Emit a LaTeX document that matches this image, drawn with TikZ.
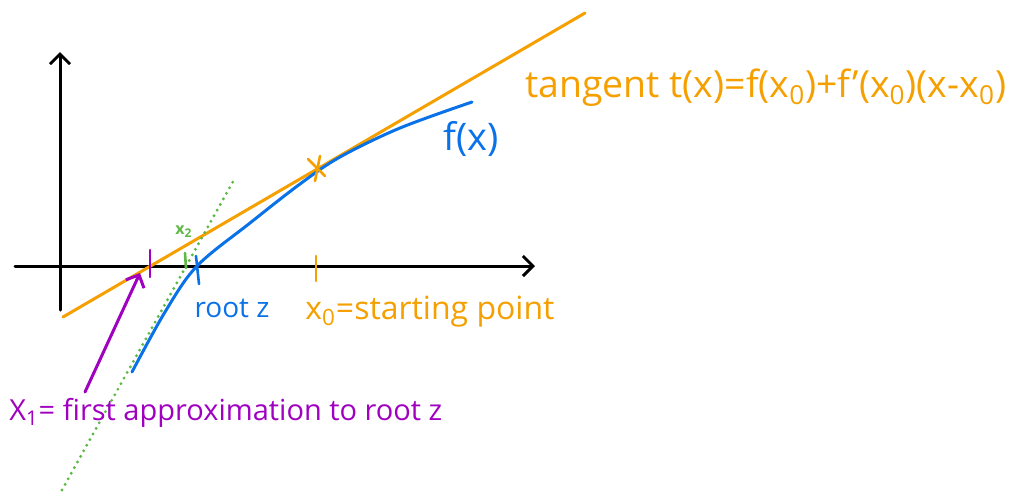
\documentclass[tikz,border=0pt]{standalone}
\usepackage{fontspec}
\setmainfont{Open Sans}
\usetikzlibrary{arrows.meta,calc}
\definecolor{tangorange}{HTML}{F5A000}
\definecolor{curveblue}{HTML}{0A72E8}
\definecolor{approxgreen}{HTML}{5DB844}
\definecolor{notepurple}{HTML}{A000C0}
\begin{document}
\begin{tikzpicture}[
  x=0.5pt, y=-0.5pt,
  line cap=round,
  line join=round,
  axis/.style={line width=1.5pt,-{Straight Barb[length=5pt,width=10pt]}},
  tick/.style={line width=1.3pt},
  lbl/.style={inner sep=0pt}
]
  \useasboundingbox (0,0) rectangle (1013,494);

  \coordinate (Xstart) at (15,266);
  \coordinate (Xend) at (535,266);
  \coordinate (Ystart) at (60,310);
  \coordinate (Yend) at (60,52);
  \coordinate (P0) at (316,168);
  \coordinate (X0) at (316,266);
  \coordinate (X1) at (150,266);
  \coordinate (X2) at (186,266);
  \coordinate (Z) at (197,266);
  \coordinate (A) at (85,392);

  % Achsen
  \draw[axis] (Xstart)--(Xend);
  \draw[axis] (Ystart)--(Yend);

  % Tangente
  \draw[tangorange,line width=1.5pt] (63,317)--(585,13);

  % zweite Tangente (gepunktet)
  \draw[approxgreen,line width=1.6pt,dash pattern=on 0pt off 3.2pt] (62,490)--(235,178);

  % Funktion f(x)
  \draw[curveblue,line width=1.5pt] plot[smooth,tension=0.55] coordinates
    {(132,372) (165,312) (197,266) (250,223) (300,184) (340,157)
     (400,128) (472,102)};

  % Markierungen
  \draw[tick,notepurple] ($(X1)+(0,-16)$)--($(X1)+(0,11)$);
  \draw[tick,curveblue] ($(Z)+(-1,-10)$)--($(Z)+(2,18)$);
  \draw[tick,tangorange] ($(X0)+(0,-10)$)--($(X0)+(0,15)$);
  \draw[tick,approxgreen] ($(X2)+(-1,-13)$)--($(X2)+(0,2)$);
  \draw[tick,tangorange] ($(P0)+(-8,-9)$)--($(P0)+(9,8)$);
  \draw[tick,tangorange] ($(P0)+(4,-12)$)--($(P0)+(-1,13)$);

  % Beschriftungen
  \node[lbl,text=tangorange,anchor=west,font=\fontsize{18.7}{22}\selectfont] (tlabel) at (525,88)
    {tangent t(x)=f(x\textsubscript{0})+f'(x\textsubscript{0})(x-x\textsubscript{0})};
  \node[lbl,text=curveblue,font=\fontsize{19}{22}\selectfont] (flabel) at (471,139) {f(x)};
  \node[lbl,text=curveblue,font=\fontsize{14}{17}\selectfont] (zlabel) at (232,308) {root z};
  \node[lbl,text=tangorange,anchor=west,font=\fontsize{16}{19}\selectfont] (x0label) at (305,312)
    {x\textsubscript{0}=starting point};
  \node[lbl,text=approxgreen,font=\bfseries\fontsize{8}{9}\selectfont] (x2label) at (184,232) {x\textsubscript{2}};
  \node[lbl,text=notepurple,anchor=west,font=\fontsize{14.5}{17}\selectfont] (x1label) at (9,413)
    {X\textsubscript{1}= first approximation to root z};

  % Pfeil
  \draw[notepurple,line width=1.5pt,-{Straight Barb[length=5pt,width=10pt]}] (A)--($(X1)+(-10,7)$);
\end{tikzpicture}
\end{document}
